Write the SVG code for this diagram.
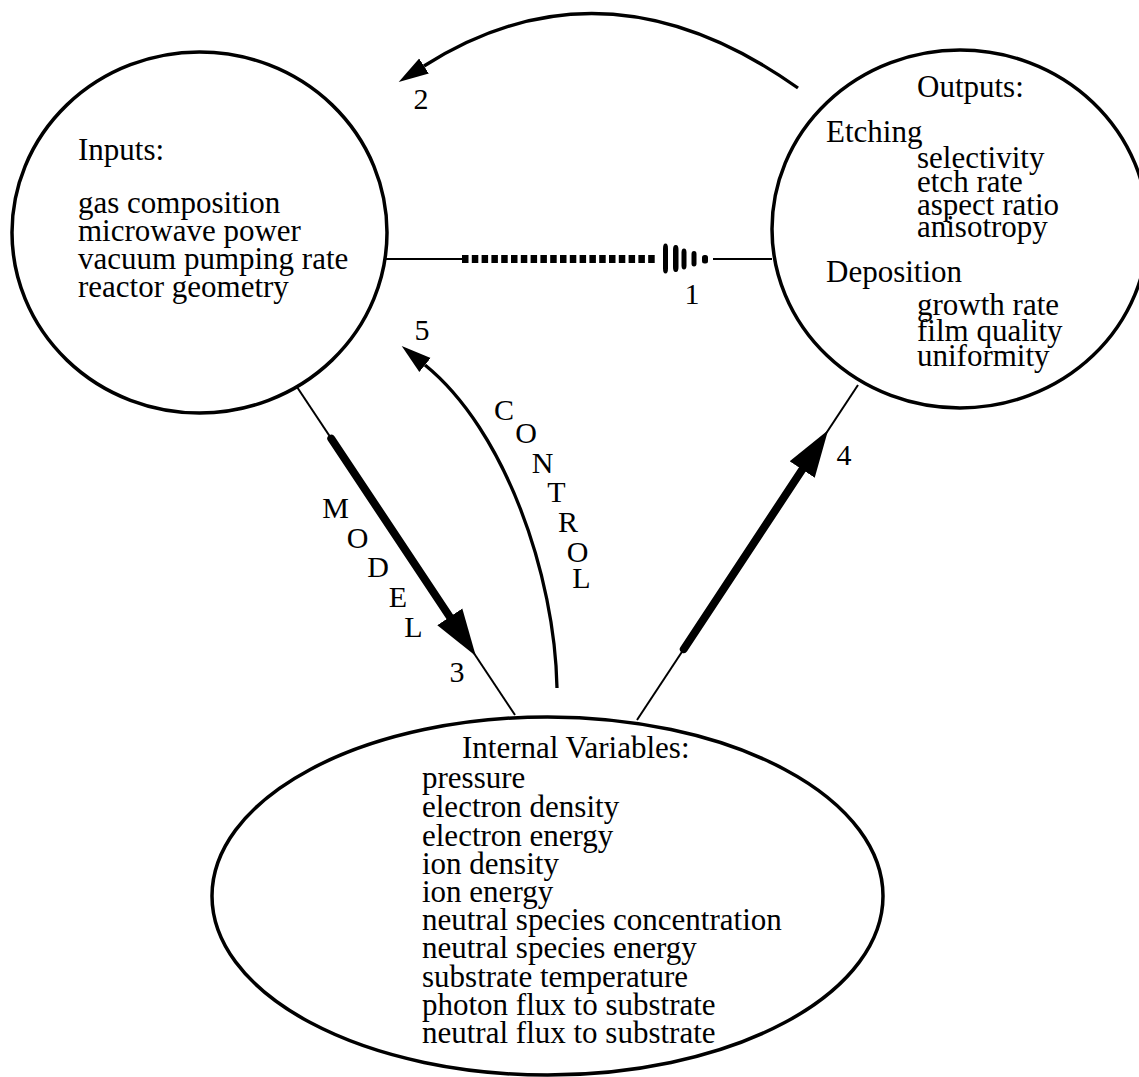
<svg xmlns="http://www.w3.org/2000/svg" width="1139" height="1077" viewBox="0 0 1139 1077">
<style>
text{font-family:"Liberation Serif","Times New Roman",serif;font-size:31px;fill:#000}
.node{fill:#fff;stroke:#000;stroke-width:3.5}
.thin{stroke:#000;stroke-width:2;fill:none}
.thick{stroke:#000;stroke-width:8;fill:none;stroke-linecap:round}
.arc{stroke:#000;stroke-width:3.3;fill:none}
.dash{stroke:#000;stroke-width:8;fill:none;stroke-dasharray:6.5 3.3}
.bar{fill:#000}
.lbl{font-size:30px;text-anchor:middle}
</style>
<defs>
<marker id="bigHead" markerUnits="userSpaceOnUse" markerWidth="48" markerHeight="32" viewBox="0 -16 48 32" refX="0" refY="0" orient="auto"><path d="M0,-15 L47,0 L0,15 Z" fill="#000"/></marker>
<marker id="smallHead" markerUnits="userSpaceOnUse" markerWidth="31" markerHeight="20" viewBox="0 -10 31 20" refX="0" refY="0" orient="auto"><path d="M0,-9 L30,0 L0,9 Z" fill="#000"/></marker>
</defs>
<rect width="1139" height="1077" fill="#fff"/>

<g id="inputs">
<ellipse class="node" cx="199.5" cy="232.5" rx="187.5" ry="180.5"/>
<text x="78" y="160">Inputs:</text>
<text x="78" y="213">gas composition</text>
<text x="78" y="241">microwave power</text>
<text x="78" y="269">vacuum pumping rate</text>
<text x="78" y="297">reactor geometry</text>
</g>

<g id="outputs">
<ellipse class="node" cx="960" cy="229" rx="188" ry="179"/>
<text x="917" y="97">Outputs:</text>
<text x="826" y="142">Etching</text>
<text x="917" y="168">selectivity</text>
<text x="917" y="192">etch rate</text>
<text x="917" y="215">aspect ratio</text>
<text x="917" y="237">anisotropy</text>
<text x="826" y="282">Deposition</text>
<text x="917" y="315">growth rate</text>
<text x="917" y="341">film quality</text>
<text x="917" y="366">uniformity</text>
</g>

<g id="internal">
<ellipse class="node" cx="547.5" cy="896" rx="335.5" ry="179"/>
<text x="462" y="758">Internal Variables:</text>
<text x="422" y="788">pressure</text>
<text x="422" y="817">electron density</text>
<text x="422" y="846">electron energy</text>
<text x="422" y="874">ion density</text>
<text x="422" y="902">ion energy</text>
<text x="422" y="930">neutral species concentration</text>
<text x="422" y="958">neutral species energy</text>
<text x="422" y="987">substrate temperature</text>
<text x="422" y="1015">photon flux to substrate</text>
<text x="422" y="1043">neutral flux to substrate</text>
</g>

<g id="connectors">
<!-- 1: inputs to outputs -->
<line class="thin" x1="385" y1="259" x2="462" y2="259"/>
<line class="dash" x1="462" y1="259" x2="658" y2="259"/>
<rect class="bar" x="663" y="243.5" width="5" height="30" rx="2.5" ry="5"/>
<rect class="bar" x="673" y="245" width="5.5" height="27" rx="2.5" ry="5"/>
<rect class="bar" x="681.5" y="248.5" width="5" height="21" rx="2.5" ry="4"/>
<rect class="bar" x="691.5" y="251" width="5" height="15.5" rx="2.5" ry="3"/>
<rect class="bar" x="702" y="255" width="6" height="8.5" rx="2.5" ry="2.5"/>
<line class="thin" x1="713" y1="259" x2="772" y2="259"/>
<!-- 2: outputs back to inputs -->
<path class="arc" d="M798,88 Q605,-49 424,66" marker-end="url(#smallHead)"/>
<!-- 3: model -->
<line class="thin" x1="297" y1="387" x2="515" y2="715"/>
<line class="thick" x1="331.3" y1="438.6" x2="449.8" y2="616.9" marker-end="url(#bigHead)"/>
<!-- 4: internal to outputs -->
<line class="thin" x1="637" y1="720" x2="858" y2="385"/>
<line class="thick" x1="683.8" y1="649.1" x2="802.2" y2="469.6" marker-end="url(#bigHead)"/>
<!-- 5: control -->
<path class="arc" d="M557,688 C555,575 505,430 425,365" marker-end="url(#smallHead)"/>
</g>

<g id="labels">
<text class="lbl" x="692" y="304">1</text>
<text class="lbl" x="421" y="109">2</text>
<text class="lbl" x="457" y="682">3</text>
<text class="lbl" x="844" y="465">4</text>
<text class="lbl" x="422" y="340">5</text>
<text class="lbl" x="335.5" y="518">M</text>
<text class="lbl" x="357.5" y="548">O</text>
<text class="lbl" x="378" y="577">D</text>
<text class="lbl" x="398" y="607">E</text>
<text class="lbl" x="413.5" y="637">L</text>
<text class="lbl" x="504" y="420">C</text>
<text class="lbl" x="526" y="443">O</text>
<text class="lbl" x="542.5" y="473">N</text>
<text class="lbl" x="556.5" y="502">T</text>
<text class="lbl" x="568" y="532">R</text>
<text class="lbl" x="577.5" y="562">O</text>
<text class="lbl" x="581.5" y="588">L</text>
</g>
</svg>
